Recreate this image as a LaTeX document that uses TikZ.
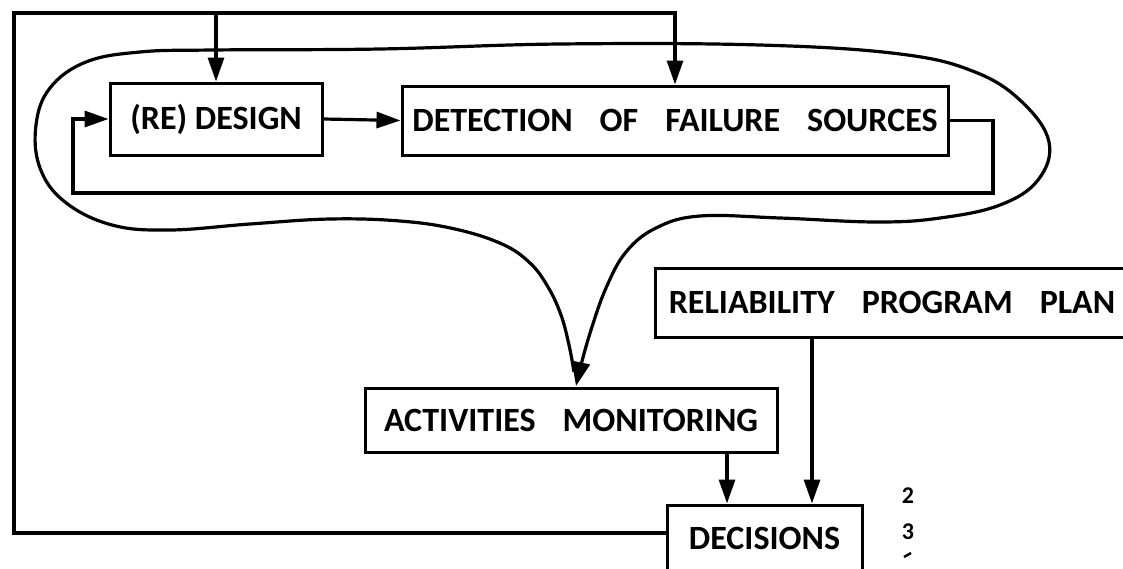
\documentclass[tikz,border=0pt]{standalone}
\usepackage{fontspec}
\setmainfont{Carlito}
\usetikzlibrary{arrows.meta}

\tikzset{
  box/.style={draw, line width=3pt, rectangle, inner sep=0pt, align=center,
    font=\fontsize{34}{37}\selectfont\bfseries},
  conn/.style={line width=3.2pt, line join=miter},
  arrow/.style={conn, -{Triangle[length=24pt,width=16pt]}},
  marginnote/.style={font=\fontsize{24}{24}\selectfont\bfseries}
}
\newcommand{\gap}{\hspace{27pt}}

\begin{document}
\begin{tikzpicture}[x=1pt,y=-1pt]
  \clip (0,0) rectangle (1123,568);
  \fill[white] (0,0) rectangle (1123,568);

  % process boxes
  \node[box, minimum width=212pt, minimum height=72pt] (redesign) at (216,119) {(RE) DESIGN};
  \node[box, minimum width=546pt, minimum height=69pt] (detect) at (675,120.5)
    {DETECTION\gap OF\gap FAILURE\gap SOURCES};
  \node[box, minimum width=412pt, minimum height=64pt] (activ) at (571,420)
    {ACTIVITIES\gap MONITORING};
  \node[box, minimum width=474pt, minimum height=69pt] (relia) at (892,302.5)
    {RELIABILITY\gap PROGRAM\gap PLAN};
  \node[box, minimum width=195pt, minimum height=66pt] (decisions) at (764.5,538) {DECISIONS};

  % routing points
  \coordinate (tl) at (14,13);
  \coordinate (bl) at (14,533);
  \coordinate (lr) at (993,193);
  \coordinate (ll) at (73,193);
  \coordinate (c1) at (727,0);
  \coordinate (c2) at (812,0);

  % outer feedback from decisions back to the design stage
  \draw[arrow] (bl -| decisions.west) -- (bl) -- (tl) -- (tl -| detect.north) -- (detect.north);
  \draw[arrow] (tl -| redesign.north) -- (redesign.north);

  % inner design loop
  \draw[arrow] (redesign.east) -- (detect.west);
  \draw[arrow] (detect.east) -| (lr) -- (ll) |- (redesign.west);

  % envelope around the design loop, funnelling into monitoring
  \draw[conn, -{Triangle[length=24pt,width=18pt]}] plot[smooth, tension=0.65] coordinates {
    (574,372) (569,345) (561,315) (548,287) (530,263) (502,244) (455,229)
    (400,221) (330,219) (250,224) (170,230) (112,225) (65,202) (40,168)
    (36,125) (50,88) (86,62) (140,52) (213,50) (380,49) (560,44) (760,45)
    (900,54) (975,72) (1022,102) (1049,142) (1038,180) (1000,205) (940,218)
    (877,222) (780,218) (700,216) (656,228) (626,252) (606,288) (591,330)
    (581,365) (576,386)
  } ;

  % lower decision inputs
  \draw[arrow] (activ.south -| c1) -- (decisions.north -| c1);
  \draw[arrow] (relia.south -| c2) -- (decisions.north -| c2);

  % margin marks
  \node[marginnote] (m2) at (908,496) {2};
  \node[marginnote] (m3) at (908,532) {3};
  \draw[line width=2.4pt] (904,557) -- (911,553);
\end{tikzpicture}
\end{document}
